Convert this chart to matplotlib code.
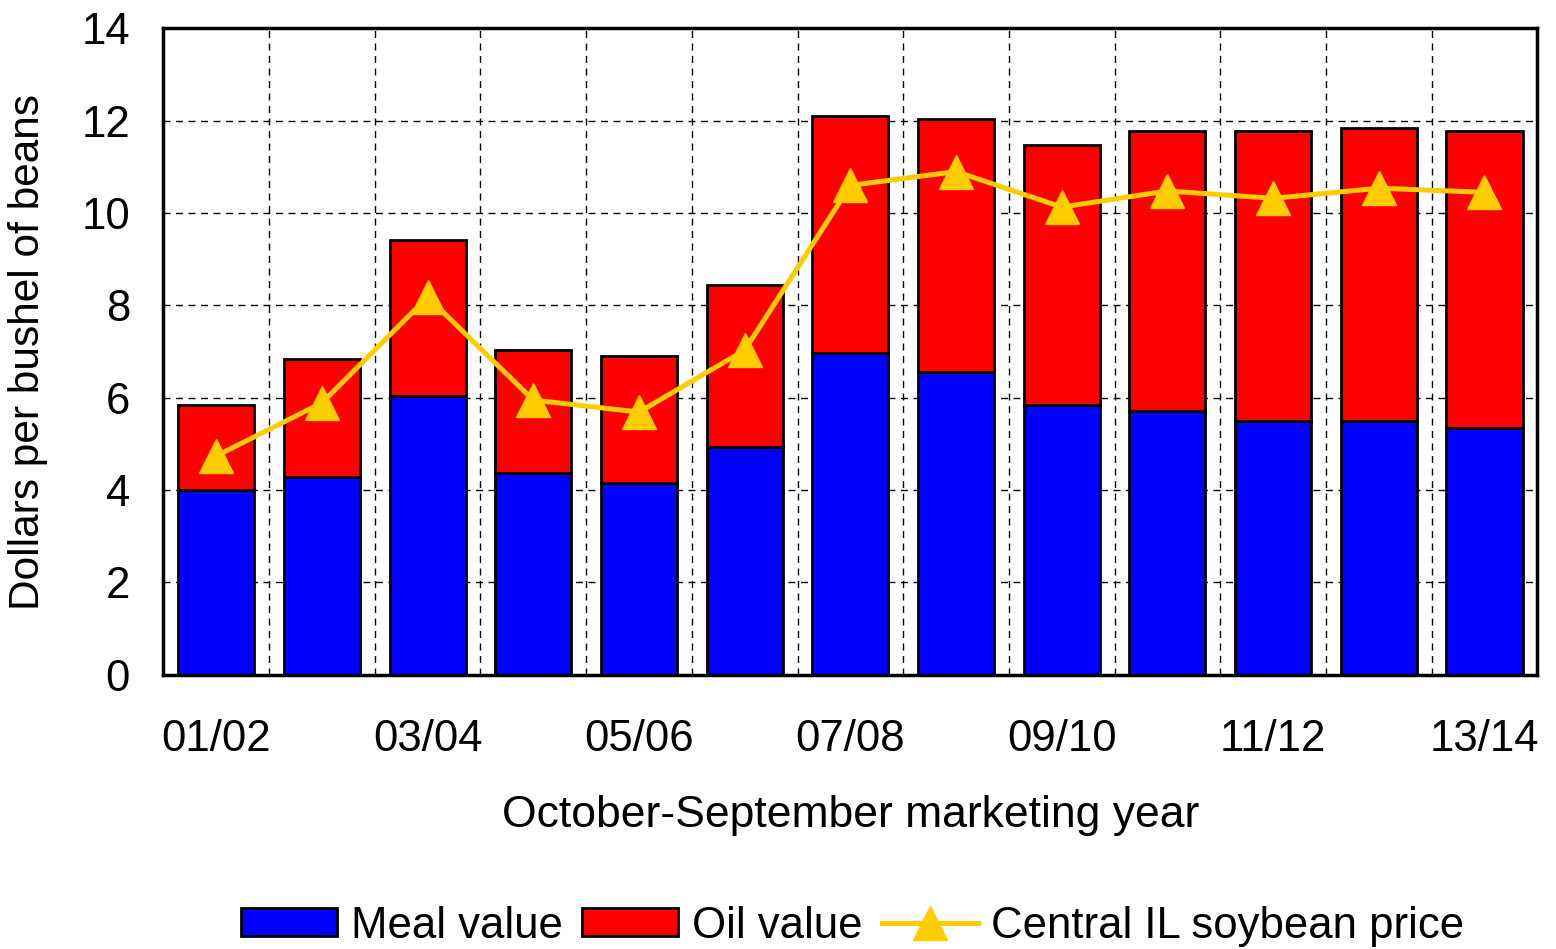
import numpy as np
import matplotlib.pyplot as plt
from matplotlib.ticker import FixedLocator

plt.rcParams['font.family'] = ['Liberation Sans', 'DejaVu Sans']

# marketing years
years = ['01/02', '02/03', '03/04', '04/05', '05/06', '06/07', '07/08',
         '08/09', '09/10', '10/11', '11/12', '12/13', '13/14']
meal = [4.00, 4.29, 6.04, 4.37, 4.16, 4.94, 6.97, 6.56, 5.84, 5.71, 5.50, 5.50, 5.35]
total = [5.84, 6.84, 9.42, 7.03, 6.90, 8.44, 12.10, 12.03, 11.47, 11.77, 11.77, 11.84, 11.77]
price = [4.74, 5.89, 8.18, 5.95, 5.69, 7.03, 10.60, 10.90, 10.13, 10.48, 10.32, 10.54, 10.45]
oil = [t - m for t, m in zip(total, meal)]

x = np.arange(len(years))

fig = plt.figure(figsize=(15.56, 9.49), dpi=100)
ax = fig.add_axes([0.105, 0.289, 0.883, 0.681])

b1 = ax.bar(x, meal, width=0.72, color='#0000FF', edgecolor='black', linewidth=2, label='Meal value', zorder=3)
b2 = ax.bar(x, oil, bottom=meal, width=0.72, color='#FF0000', edgecolor='black', linewidth=2, label='Oil value', zorder=3)
ln, = ax.plot(x, price, color='#FFCC00', linewidth=3.6, marker='^', markersize=24,
              label='Central IL soybean price', zorder=4)

ax.set_xlim(-0.5, len(years) - 0.5)
ax.set_ylim(0, 14)
ax.set_yticks(np.arange(0, 15, 2))
ax.set_xticks(x[::2])
ax.set_xticklabels(years[::2])
ax.xaxis.set_minor_locator(FixedLocator(np.arange(0.5, len(years) - 1, 1)))
ax.tick_params(axis='both', which='both', length=0, labelsize=31.5)
ax.tick_params(axis='x', pad=32)
ax.tick_params(axis='y', pad=24)

ax.grid(axis='y', which='major', linestyle=(0, (5, 4)), color='black', linewidth=1, zorder=0)
ax.grid(axis='x', which='minor', linestyle=(0, (5, 4)), color='black', linewidth=1, zorder=0)
for s in ax.spines.values():
    s.set_linewidth(2.5)
    s.set_zorder(5)

ax.set_xlabel('October-September marketing year', fontsize=32, labelpad=25)
ax.set_ylabel('Dollars per bushel of beans', fontsize=30.5, labelpad=24)

fig.legend([b1, b2, ln], ['Meal value', 'Oil value', 'Central IL soybean price'],
           loc='center', bbox_to_anchor=(0.548, 0.024), ncol=3, frameon=False, fontsize=31.5,
           handlelength=2.2, handleheight=0.6, columnspacing=0.45, handletextpad=0.3)

plt.savefig('out.png', dpi=100)
